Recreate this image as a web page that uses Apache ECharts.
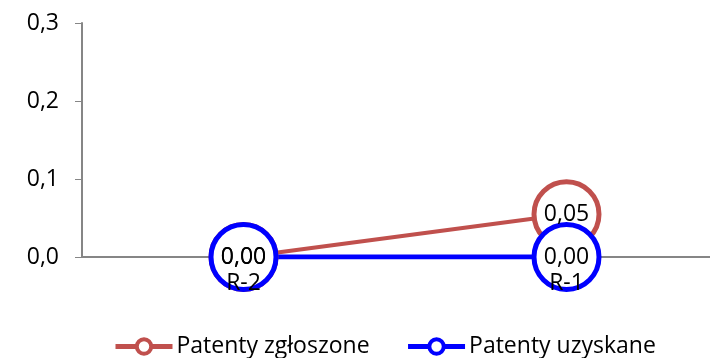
<!DOCTYPE html>
<html><head><meta charset="utf-8">
<script src="https://cdn.jsdelivr.net/npm/echarts@6/dist/echarts.min.js"></script>
<style>html,body{margin:0;padding:0;background:#fff}#c{width:710px;height:358px}</style>
</head><body><div id="c"></div>
<script>
const categories = ['R-2', 'R-1'];
const seriesNames = ['Patenty zgłoszone', 'Patenty uzyskane'];
const zgloszone = [0, 0.0549];
const uzyskane = [0, 0];
const yTicks = [0, 0.1, 0.2, 0.3];

const font = '"Open Sans", Lato, sans-serif';
const fmt = v => v.toFixed(2).replace('.', ',');
const chart = echarts.init(document.getElementById('c'));
function mk(name, data, color, lw) {
  return {
    name, type: 'line', data, xAxisIndex: 0,
    symbol: 'circle', symbolSize: 65,
    lineStyle: { color, width: lw },
    itemStyle: { color: '#fff', borderColor: color, borderWidth: 5 },
    label: { show: true, position: 'inside', formatter: p => fmt(p.value), color: '#000', fontSize: 23, fontFamily: font },
    emphasis: { disabled: true },
    animation: false
  };
}
chart.setOption({
  animation: false,
  grid: { left: 82, right: -18, top: 23, bottom: 101, outerBoundsMode: 'none', containLabel: false },
  xAxis: [{
    type: 'category', data: categories,
    axisLine: { lineStyle: { color: '#868686', width: 2 } },
    axisTick: { show: false }, axisLabel: { show: false }
  }, {
    type: 'category', data: categories, position: 'bottom', z: 10,
    axisLine: { show: false }, axisTick: { show: false },
    axisLabel: { color: '#000', fontSize: 23, fontFamily: font, margin: 15 }
  }],
  yAxis: {
    type: 'value', min: 0, max: 0.3, interval: 0.1,
    axisLine: { show: true, lineStyle: { color: '#868686', width: 2 } },
    axisTick: { show: true, inside: false, length: 7, lineStyle: { color: '#868686', width: 1 } },
    splitLine: { show: false },
    axisLabel: { color: '#000', fontSize: 23, fontFamily: font, margin: 23, formatter: v => v.toFixed(1).replace('.', ',') }
  },
  legend: {
    bottom: -5, left: 108, itemWidth: 57, itemHeight: 18, itemGap: 36,
    lineStyle: { width: 5 },
    itemStyle: { borderWidth: 4 },
    textStyle: { fontSize: 23, fontFamily: font, color: '#000', padding: [0, 0, 0, -1] },
    data: seriesNames
  },
  series: [mk(seriesNames[0], zgloszone, '#C0504D', 4), mk(seriesNames[1], uzyskane, '#0000FF', 5)]
});
</script></body></html>
